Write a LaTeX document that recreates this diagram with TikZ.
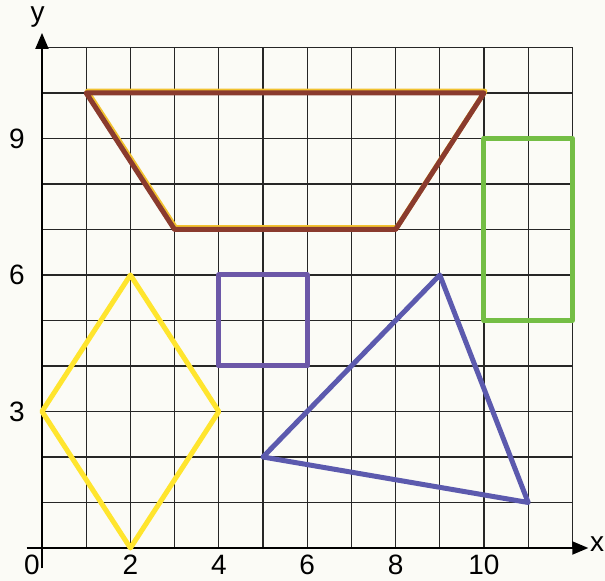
\documentclass[tikz,border=0pt]{standalone}
\usepackage{fontspec}
\setmainfont{Liberation Sans}
\usetikzlibrary{arrows.meta}

\definecolor{paper}{HTML}{FBFBF6}
\definecolor{trapbrown}{HTML}{8A3B2E}
\definecolor{trapedge}{HTML}{F2C230}
\definecolor{rectgreen}{HTML}{74BE45}
\definecolor{sqpurple}{HTML}{6C58A8}
\definecolor{triblue}{HTML}{5C5AAE}
\definecolor{rhombyellow}{HTML}{FFE52E}

\tikzset{
	gridline/.style={black!85, line width=0.55pt},
	axisline/.style={black, line width=1pt, -{Triangle[length=8pt, width=6.5pt]}},
	figline/.style={line width=2.5pt, line join=round},
	ticklabel/.style={font=\fontsize{14}{16}\selectfont, inner sep=1pt}
}

\begin{document}
\begin{tikzpicture}[x=22.1pt, y=22.75pt]
	
	\fill [paper] (-0.950, -0.725) rectangle (12.738, 12.044);
	\useasboundingbox (-0.950, -0.725) rectangle (12.738, 12.044);
	
	% grid
	\foreach \i in {1,...,12} \draw [gridline] (\i, 0) -- (\i, 11);
	\foreach \j in {1,...,11} \draw [gridline] (0, \j) -- (12, \j);
	
	% axes
	\draw [axisline] (-0.35, 0) coordinate (xs) -- (12.36, 0) coordinate (xe);
	\draw [axisline] (0, -0.45) coordinate (ys) -- (0, 11.32) coordinate (ye);
	\node (ylab) [ticklabel] at (-0.1, 11.68) {y};
	\node (xlab) [ticklabel] at (12.56, 0.08) {x};
	
	\node (t0) [ticklabel] at (-0.23, -0.37) {0};
	\foreach \i in {2,4,6,8,10} \node (t\i) [ticklabel] at (\i, -0.37) {\i};
	\foreach \j in {3,6,9} \node (s\j) [ticklabel] at (-0.57, \j) {\j};
	
	% trapezoid
	\draw [figline, trapedge, shift={(0.5pt, 0.9pt)}] (1, 10) -- (10, 10) -- (8, 7) -- (3, 7) -- cycle;
	\draw [figline, trapbrown] (1, 10) -- (10, 10) -- (8, 7) -- (3, 7) -- cycle;
	
	% rectangle and square
	\draw [figline, rectgreen] (10, 5) rectangle (12, 9);
	\draw [figline, sqpurple] (4, 4) rectangle (6, 6);
	
	% rhombus
	\draw [figline, rhombyellow] (0, 3) -- (2, 6) -- (4, 3) -- (2, 0) -- cycle;
	
	% triangle
	\draw [figline, triblue] (5, 2) -- (9, 6) -- (11, 1) -- cycle;
	
\end{tikzpicture}
\end{document}
